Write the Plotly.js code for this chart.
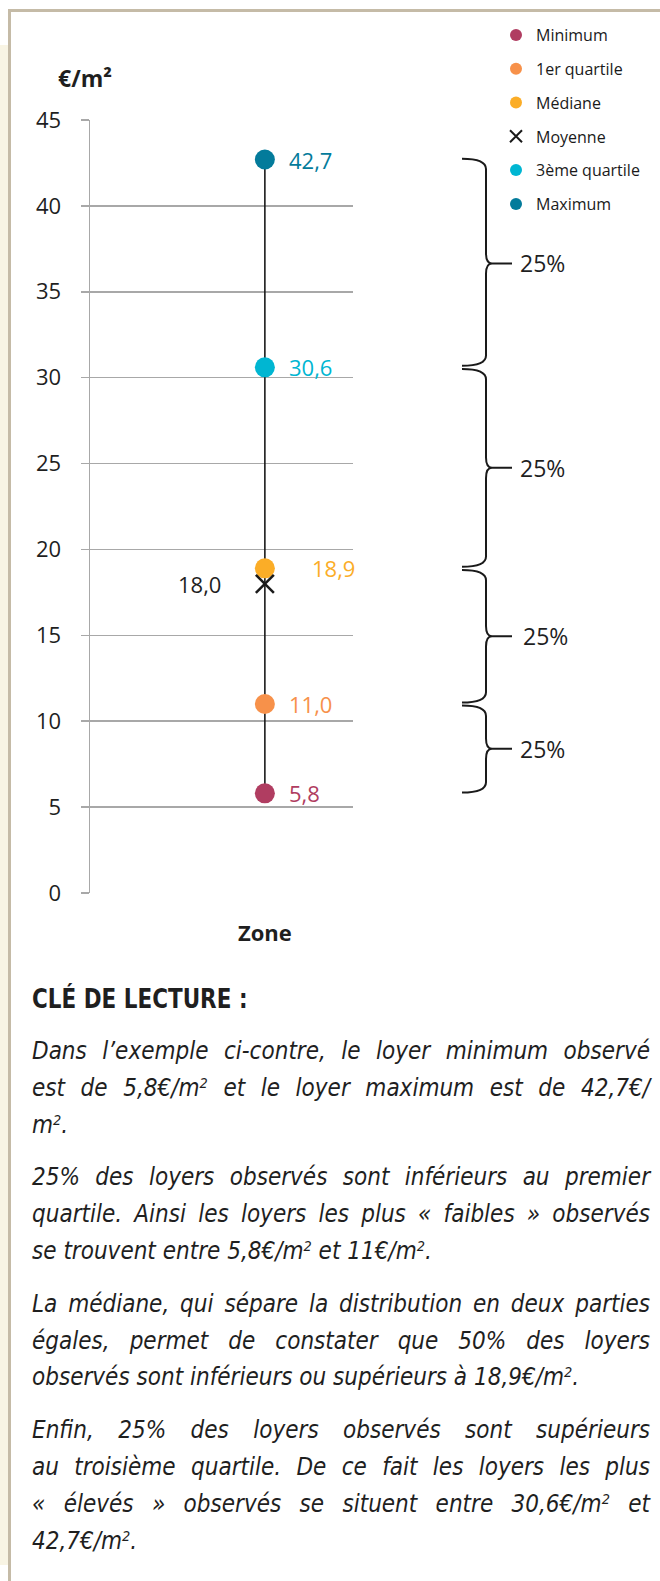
<!DOCTYPE html>
<html>
<head>
<meta charset="utf-8">
<script src="https://cdn.plot.ly/plotly-3.0.1.min.js"></script>
<style>
  html, body { margin: 0; padding: 0; background: #ffffff; }
  body { width: 660px; height: 1581px; position: relative; overflow: hidden; }
  #strip { position: absolute; left: 0; top: 45px; width: 8px; height: 1520px; background: #f8f4e4; }
  #frame { position: absolute; left: 8px; top: 9px; right: 0; bottom: 0;
           border-top: 3px solid #c5bba7; border-left: 3px solid #c5bba7; }
  #chart { position: absolute; left: 0; top: 0; width: 660px; height: 960px; }
  #text { position: absolute; left: 32px; top: 984px; width: 618px; color: #1f1f1f; }
  #text h2 { margin: 0; font-family: 'Liberation Sans Narrow', 'DejaVu Sans Condensed', 'Liberation Sans', sans-serif;
             font-weight: bold; font-size: 26px; line-height: 30px; height: 30px; white-space: nowrap;
             transform: scaleX(0.92); transform-origin: 0 50%; }
  .p { margin-top: 16px; }
  .p.first { margin-top: 19px; }
  .l { font-family: 'Liberation Sans Narrow', 'DejaVu Sans Condensed', 'Liberation Sans', sans-serif;
       font-style: italic; font-size: 24px; line-height: 36.8px; height: 36.8px; }
  .j { text-align: justify; text-align-last: justify; }
  sup { font-size: 0.6em; line-height: 0; vertical-align: 0.55em; }
</style>
</head>
<body>
<div id="strip"></div>
<div id="frame"></div>
<div id="chart"></div>
<div id="text">
  <h2>CLÉ DE LECTURE :</h2>
  <div class="p first">
    <div class="l j">Dans l’exemple ci-contre, le loyer minimum observé</div>
    <div class="l j">est de 5,8€/m<sup>2</sup> et le loyer maximum est de 42,7€/</div>
    <div class="l">m<sup>2</sup>.</div>
  </div>
  <div class="p">
    <div class="l j">25% des loyers observés sont inférieurs au premier</div>
    <div class="l j">quartile. Ainsi les loyers les plus « faibles » observés</div>
    <div class="l">se trouvent entre 5,8€/m<sup>2</sup> et 11€/m<sup>2</sup>.</div>
  </div>
  <div class="p">
    <div class="l j">La médiane, qui sépare la distribution en deux parties</div>
    <div class="l j">égales, permet de constater que 50% des loyers</div>
    <div class="l">observés sont inférieurs ou supérieurs à 18,9€/m<sup>2</sup>.</div>
  </div>
  <div class="p">
    <div class="l j">Enfin, 25% des loyers observés sont supérieurs</div>
    <div class="l j">au troisième quartile. De ce fait les loyers les plus</div>
    <div class="l j">« élevés » observés se situent entre 30,6€/m<sup>2</sup> et</div>
    <div class="l">42,7€/m<sup>2</sup>.</div>
  </div>
</div>
<script>
// ---- data ----
const categories = ['Zone'];
const seriesNames = ['Minimum', '1er quartile', 'Médiane', 'Moyenne', '3ème quartile', 'Maximum'];
const seriesValues = [5.8, 11.0, 18.9, 18.0, 30.6, 42.7];
const yTickVals = [0, 5, 10, 15, 20, 25, 30, 35, 40, 45];
const shareLabels = ['25%', '25%', '25%', '25%'];
const yUnit = '€/m²';

// ---- styles ----
const seriesColors = ['#b03d61', '#f7914a', '#fbad27', '#1a1a1a', '#00b6d2', '#037b9b'];
const seriesSymbols = ['circle', 'circle', 'circle', 'x-thin', 'circle', 'circle'];
const labelShift = [22, 22, 45, -42, 22, 22];
const FONT = "'Open Sans', 'Noto Sans', sans-serif";
const TXT = '#1f1f1f';

const fmt = v => v.toFixed(1).replace('.', ',');

const traces = [];
// whisker line from minimum to maximum
traces.push({
  x: [categories[0], categories[0]],
  y: [Math.min(...seriesValues), Math.max(...seriesValues)],
  type: 'scatter', mode: 'lines',
  line: { color: '#1a1a1a', width: 1.6 },
  showlegend: false, hoverinfo: 'skip'
});
seriesNames.forEach((name, i) => {
  const isX = seriesSymbols[i] === 'x-thin';
  traces.push({
    x: categories, y: [seriesValues[i]],
    type: 'scatter', mode: 'markers', name: name, legendgroup: name,
    marker: {
      symbol: seriesSymbols[i], size: isX ? 18 : 20, color: seriesColors[i],
      line: { color: seriesColors[i], width: isX ? 2.5 : 0 }
    }
  });
});

const annotations = seriesNames.map((name, i) => ({
  x: categories[0], y: seriesValues[i], xref: 'x', yref: 'y',
  text: fmt(seriesValues[i]), showarrow: false,
  xanchor: labelShift[i] < 0 ? 'right' : 'left', yanchor: 'middle',
  xshift: labelShift[i],
  font: { family: FONT, size: 22, color: i === 3 ? TXT : seriesColors[i] }
}));
annotations.push({
  x: -0.1293, y: 1.0543, xref: 'paper', yref: 'paper', text: '<b>' + yUnit + '</b>',
  showarrow: false, xanchor: 'left', yanchor: 'middle',
  font: { family: FONT, size: 23, color: TXT }
});

// braces spanning each quarter of the distribution
const order = [5, 4, 2, 1, 0]; // max, q3, median, q1, min
const shapes = [];
const PX = p => (p - 90) / 263;
const xl = PX(462), xv = PX(486), xt = PX(512), d = 6 / 263, r = 0.6, g = 0.09;
for (let k = 0; k < 4; k++) {
  const top = seriesValues[order[k]] + (k === 0 ? 0.05 : -g);
  const bot = seriesValues[order[k + 1]] + (k === 3 ? 0.05 : g);
  const ym = (seriesValues[order[k]] + seriesValues[order[k + 1]]) / 2;
  const path = `M ${xl},${top} Q ${xv},${top} ${xv},${top - r} L ${xv},${ym + r} ` +
    `Q ${xv},${ym} ${xv + d},${ym} L ${xt},${ym} M ${xv + d},${ym} ` +
    `Q ${xv},${ym} ${xv},${ym - r} L ${xv},${bot + r} Q ${xv},${bot} ${xl},${bot}`;
  shapes.push({ type: 'path', xref: 'paper', yref: 'y', path: path,
    line: { color: '#1a1a1a', width: 2 } });
  annotations.push({
    x: PX(k === 2 ? 521 : 518), y: ym, xref: 'paper', yref: 'y', text: shareLabels[k],
    showarrow: false, xanchor: 'left', yanchor: 'middle',
    font: { family: FONT, size: 23, color: TXT }
  });
}

const layout = {
  width: 660, height: 960,
  margin: { l: 90, r: 307, t: 120, b: 67, pad: 0 },
  paper_bgcolor: 'rgba(0,0,0,0)', plot_bgcolor: 'rgba(0,0,0,0)',
  font: { family: FONT, color: TXT },
  showlegend: true,
  legend: {
    x: PX(496), y: (893 - 18) / 773, xanchor: 'left', yanchor: 'top',
    font: { family: FONT, size: 16, color: '#1a1a1a' },
    tracegroupgap: 10, itemsizing: 'constant', bgcolor: 'rgba(0,0,0,0)',
    traceorder: 'grouped'
  },
  xaxis: {
    type: 'category', range: [-1, 0.504], showgrid: false, zeroline: false, showline: false,
    ticks: '', tickfont: { family: FONT, size: 22, color: TXT, weight: 'bold' },
    ticklabelstandoff: 25, fixedrange: true
  },
  yaxis: {
    range: [0, 45], tickvals: yTickVals, ticktext: yTickVals.map(String),
    showgrid: true, gridcolor: '#a8a8a8', gridwidth: 1.5,
    zeroline: false, showline: true, linecolor: '#a8a8a8', linewidth: 1.5,
    ticks: 'outside', ticklen: 8, tickcolor: '#a8a8a8', tickwidth: 1.5,
    tickfont: { family: FONT, size: 22, color: TXT }, ticklabelstandoff: 15,
    fixedrange: true
  },
  shapes: shapes,
  annotations: annotations
};

Plotly.newPlot('chart', traces, layout, { displayModeBar: false, staticPlot: true });
</script>
</body>
</html>
